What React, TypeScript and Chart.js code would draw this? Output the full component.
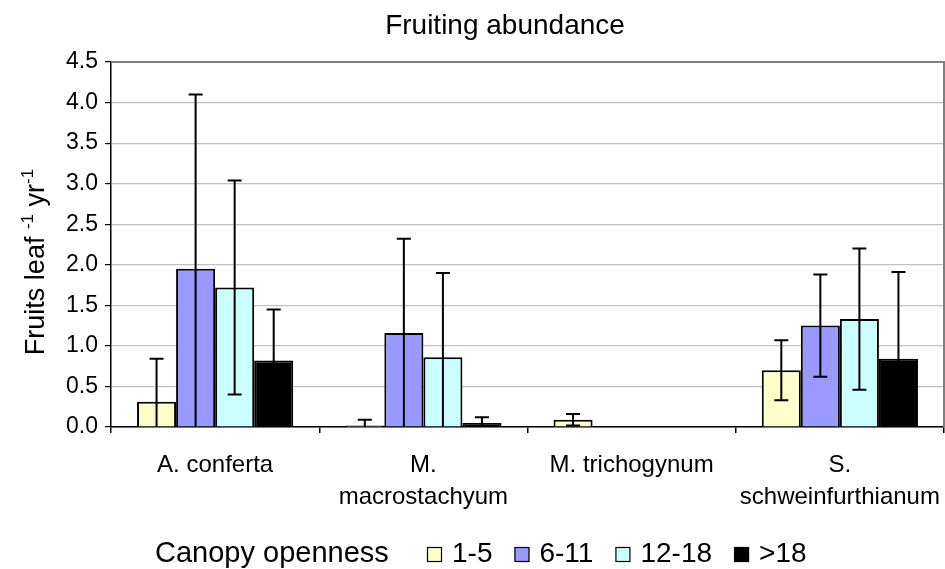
import React, { useEffect, useRef } from "react";
import { Chart, registerables } from "chart.js";

Chart.register(...registerables);

const categories: string[][] = [["A. conferta"], ["M.", "macrostachyum"], ["M. trichogynum"], ["S.", "schweinfurthianum"]];
const seriesNames = ["1-5", "6-11", "12-18", ">18"];
const seriesColors = ["#FFFFCC", "#9999FF", "#CCFFFF", "#000000"];

const values15 = [0.31, 0.02, 0.09, 0.70];
const values611 = [1.95, 1.16, 0.005, 1.25];
const values1218 = [1.72, 0.86, 0, 1.33];
const values18 = [0.82, 0.05, 0, 0.84];

const err15 = [0.53, 0.07, 0.07, 0.37];
const err611 = [2.15, 1.16, 0, 0.63];
const err1218 = [1.32, 1.04, 0, 0.87];
const err18 = [0.63, 0.07, 0, 1.07];

const yTicks = [0, 0.5, 1.0, 1.5, 2.0, 2.5, 3.0, 3.5, 4.0, 4.5];

const titleText = "Fruiting abundance";
const legendTitle = "Canopy openness";

const FONT = '"Liberation Sans", Arial, Helvetica, sans-serif';

const allValues = [values15, values611, values1218, values18];
const allErrors = [err15, err611, err1218, err18];

const errorBarPlugin = {
  id: "errorBars",
  afterDatasetsDraw(chart: any) {
    const ctx = chart.ctx;
    const yScale = chart.scales.y;
    ctx.save();
    ctx.strokeStyle = "#000";
    ctx.lineWidth = 2;
    chart.data.datasets.forEach((ds: any, di: number) => {
      const meta = chart.getDatasetMeta(di);
      const errs: number[] = ds.errors;
      meta.data.forEach((bar: any, i: number) => {
        const v = ds.data[i];
        const e = errs[i];
        if (!e) return;
        const x = bar.x;
        const yTop = yScale.getPixelForValue(v + e);
        const lowVal = v - e;
        const yBot = yScale.getPixelForValue(Math.max(0, lowVal));
        const cap = 7;
        ctx.beginPath();
        ctx.moveTo(x, yTop);
        ctx.lineTo(x, yBot);
        ctx.moveTo(x - cap, yTop);
        ctx.lineTo(x + cap, yTop);
        if (lowVal > 0.001) {
          ctx.moveTo(x - cap, yBot);
          ctx.lineTo(x + cap, yBot);
        }
        ctx.stroke();
      });
    });
    ctx.restore();
  },
};

const decorPlugin = {
  id: "decor",
  afterDraw(chart: any) {
    const ctx = chart.ctx;
    const area = chart.chartArea;
    ctx.save();
    // plot frame top & right
    ctx.strokeStyle = "#808080";
    ctx.lineWidth = 2;
    ctx.beginPath();
    ctx.moveTo(area.left, area.top);
    ctx.lineTo(area.right, area.top);
    ctx.lineTo(area.right, area.bottom);
    ctx.stroke();

    ctx.fillStyle = "#000";
    // title
    ctx.font = `28px ${FONT}`;
    ctx.textAlign = "center";
    ctx.textBaseline = "alphabetic";
    ctx.fillText(titleText, 505, 34);

    // y axis title (rotated)
    ctx.save();
    ctx.translate(44, 262);
    ctx.rotate(-Math.PI / 2);
    const parts: { t: string; sup: boolean }[] = [
      { t: "Fruits leaf ", sup: false },
      { t: "-1", sup: true },
      { t: " yr", sup: false },
      { t: "-1", sup: true },
    ];
    const bigFont = `27px ${FONT}`;
    const smallFont = `17px ${FONT}`;
    let total = 0;
    parts.forEach((p) => {
      ctx.font = p.sup ? smallFont : bigFont;
      total += ctx.measureText(p.t).width;
    });
    let px = -total / 2;
    ctx.textAlign = "left";
    parts.forEach((p) => {
      ctx.font = p.sup ? smallFont : bigFont;
      ctx.fillText(p.t, px, p.sup ? -11 : 0);
      px += ctx.measureText(p.t).width;
    });
    ctx.restore();

    // legend
    ctx.textAlign = "left";
    ctx.textBaseline = "alphabetic";
    const baseY = 562;
    ctx.font = `29px ${FONT}`;
    ctx.fillText(legendTitle, 155, baseY);
    ctx.font = `28px ${FONT}`;
    let bx = 427;
    chart.data.datasets.forEach((ds: any) => {
      ctx.fillStyle = ds.backgroundColor;
      ctx.fillRect(bx, 547, 15, 15);
      ctx.strokeStyle = "#000";
      ctx.lineWidth = 1.2;
      ctx.strokeRect(bx + 0.5, 547.5, 14, 14);
      ctx.fillStyle = "#000";
      const tx = bx + 25;
      ctx.fillText(ds.label, tx, baseY);
      bx = tx + ctx.measureText(ds.label).width + 22;
    });
    ctx.restore();
  },
};

export default function App() {
  const ref = useRef<HTMLCanvasElement>(null);
  useEffect(() => {
    document.body.style.margin = "0";
    const canvas = ref.current!;
    const chart = new Chart(canvas, {
      type: "bar",
      data: {
        labels: categories as any,
        datasets: allValues.map((vals, i) => ({
          label: seriesNames[i],
          data: vals,
          errors: allErrors[i],
          backgroundColor: seriesColors[i],
          borderColor: "#000",
          borderWidth: 2,
          categoryPercentage: 0.75,
          barPercentage: 1.0,
        })) as any,
      },
      options: {
        animation: false,
        responsive: false,
        devicePixelRatio: 1,
        layout: { padding: { top: 62, right: 1, left: 0, bottom: 0 } },
        plugins: {
          legend: { display: false },
          title: { display: false },
          tooltip: { enabled: false },
        },
        scales: {
          x: {
            afterFit: (scale: any) => {
              scale.height = 569 - 427;
              scale.paddingLeft = 0;
              scale.paddingRight = 0;
            },
            grid: {
              display: true,
              drawOnChartArea: false,
              drawTicks: true,
              tickLength: 6,
              color: "#000",
              offset: true,
              lineWidth: 1.5,
            },
            border: { color: "#000", width: 1.5 },
            ticks: {
              color: "#000",
              font: { family: FONT, size: 24, lineHeight: 1.35 },
              padding: 16,
              maxRotation: 0,
              autoSkip: false,
            },
          },
          y: {
            min: 0,
            max: 4.5,
            afterFit: (scale: any) => {
              scale.width = 111;
            },
            afterBuildTicks: (scale: any) => {
              scale.ticks = yTicks.map((v) => ({ value: v }));
            },
            grid: {
              color: "#c0c0c0",
              tickColor: "#000",
              tickLength: 6,
              lineWidth: 1.2,
            },
            border: { color: "#000", width: 1.5 },
            ticks: {
              color: "#000",
              font: { family: FONT, size: 23 },
              padding: 7,
              callback: (v: any) => Number(v).toFixed(1),
            },
          },
        },
      },
      plugins: [errorBarPlugin, decorPlugin],
    });
    return () => chart.destroy();
  }, []);
  return <canvas ref={ref} width={945} height={569} style={{ display: "block", width: 945, height: 569 }} />;
}
